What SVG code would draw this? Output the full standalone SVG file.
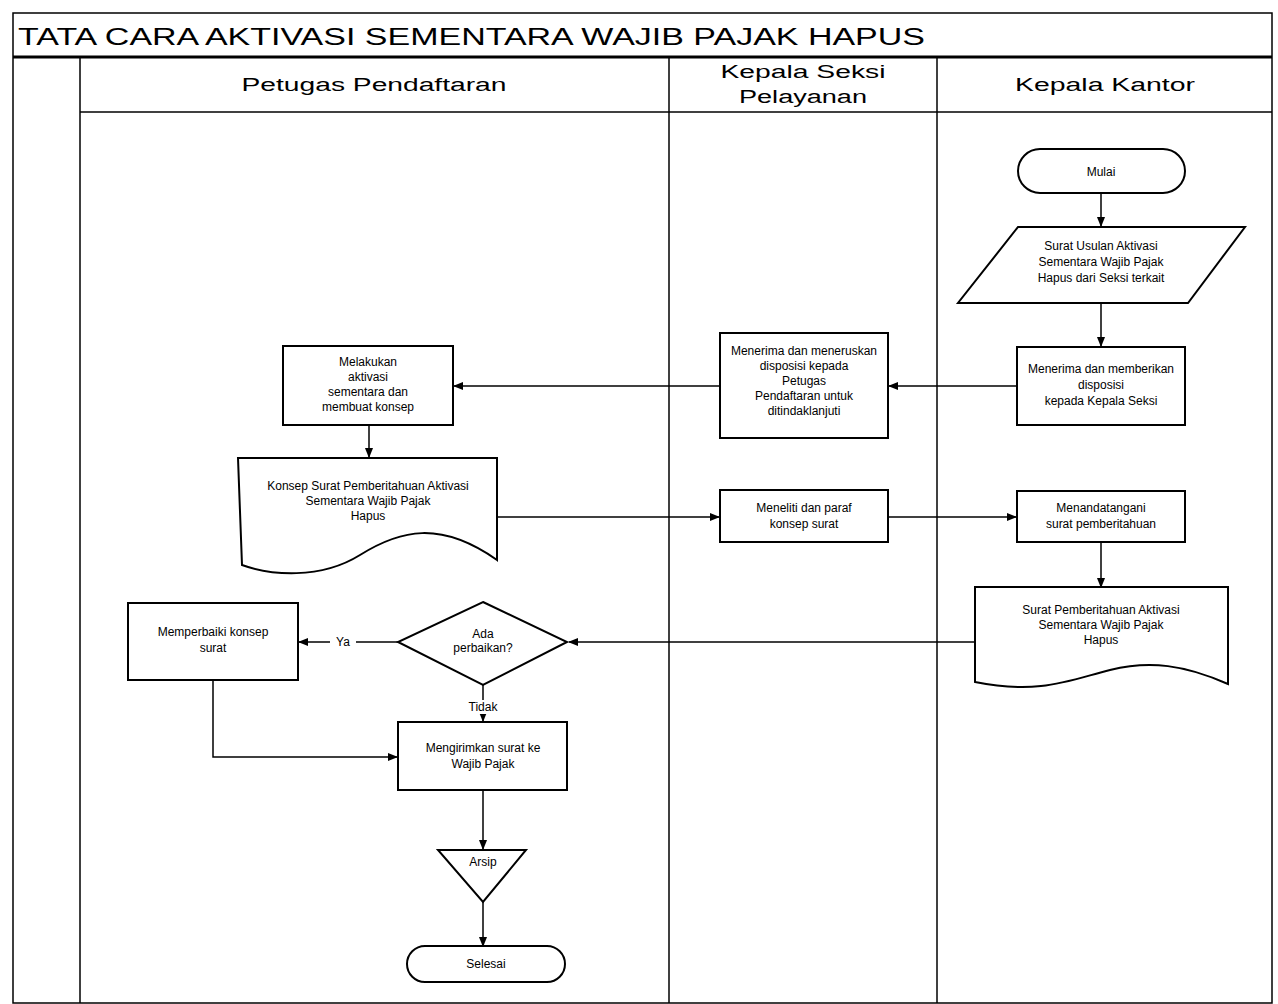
<svg xmlns="http://www.w3.org/2000/svg" width="1278" height="1004" viewBox="0 0 1278 1004">
<defs>
<marker id="ah" viewBox="0 0 10 10" refX="9" refY="5" markerWidth="7" markerHeight="7" orient="auto"><path d="M0,1 L10,5 L0,9 z" fill="#000"/></marker>
<style>
.frame{fill:none;stroke:#000;stroke-width:1.5}
.thick{stroke:#000;stroke-width:3}
.shape{fill:#fff;stroke:#000;stroke-width:2}
.conn{fill:none;stroke:#000;stroke-width:1.5;marker-end:url(#ah)}
text{font-family:"Liberation Sans",Arial,sans-serif;fill:#000}
.title{font-size:23px}
.hdr{font-size:18px;text-anchor:middle}
.lbl{font-size:12px;text-anchor:middle}
</style>
</defs>
<rect width="1278" height="1004" fill="#fff"/>
<g id="frame">
<rect class="frame" x="13" y="13" width="1259" height="990"/>
<line class="thick" x1="13" y1="57" x2="1272" y2="57"/>
<line class="frame" x1="80" y1="112" x2="1272" y2="112"/>
<line class="frame" x1="80" y1="57" x2="80" y2="1003"/>
<line class="frame" x1="669" y1="57" x2="669" y2="1003"/>
<line class="frame" x1="937" y1="57" x2="937" y2="1003"/>
<text class="title" x="18" y="45" textLength="907" lengthAdjust="spacingAndGlyphs">TATA CARA AKTIVASI SEMENTARA WAJIB PAJAK HAPUS</text>
<text class="hdr" x="374" y="91" textLength="265" lengthAdjust="spacingAndGlyphs">Petugas Pendaftaran</text>
<text class="hdr" x="803" y="78" textLength="165" lengthAdjust="spacingAndGlyphs">Kepala Seksi</text>
<text class="hdr" x="803" y="103" textLength="128" lengthAdjust="spacingAndGlyphs">Pelayanan</text>
<text class="hdr" x="1105" y="91" textLength="180" lengthAdjust="spacingAndGlyphs">Kepala Kantor</text>
</g>
<g id="connectors">
<line class="conn" x1="1101" y1="193" x2="1101" y2="226"/>
<line class="conn" x1="1101" y1="303" x2="1101" y2="346"/>
<line class="conn" x1="1017" y1="386" x2="889" y2="386"/>
<line class="conn" x1="720" y1="386" x2="454" y2="386"/>
<line class="conn" x1="369" y1="425" x2="369" y2="457"/>
<line class="conn" x1="497" y1="517" x2="719" y2="517"/>
<line class="conn" x1="888" y1="517" x2="1016" y2="517"/>
<line class="conn" x1="1101" y1="542" x2="1101" y2="587"/>
<line class="conn" x1="975" y1="642" x2="569" y2="642"/>
<line class="conn" x1="398" y1="642" x2="299" y2="642"/>
<line class="conn" x1="483" y1="685" x2="483" y2="721"/>
<polyline class="conn" points="213,680 213,757 397,757"/>
<line class="conn" x1="483" y1="790" x2="483" y2="849"/>
<line class="conn" x1="483" y1="902" x2="483" y2="946"/>
<rect x="330" y="635" width="26" height="14" fill="#fff"/>
<text class="lbl" x="343" y="646">Ya</text>
<rect x="466" y="700" width="34" height="14" fill="#fff"/>
<text class="lbl" x="483" y="711">Tidak</text>
</g>
<g id="start">
<rect class="shape" x="1018" y="149" width="167" height="44" rx="22"/>
<text class="lbl" x="1101" y="176">Mulai</text>
</g>
<g id="input">
<polygon class="shape" points="1018,227 1245,227 1188,303 958,303"/>
<text class="lbl" x="1101" y="250">Surat Usulan Aktivasi</text>
<text class="lbl" x="1101" y="266">Sementara Wajib Pajak</text>
<text class="lbl" x="1101" y="282">Hapus dari Seksi terkait</text>
</g>
<g id="kk1">
<rect class="shape" x="1017" y="347" width="168" height="78"/>
<text class="lbl" x="1101" y="373">Menerima dan memberikan</text>
<text class="lbl" x="1101" y="389">disposisi</text>
<text class="lbl" x="1101" y="405">kepada Kepala Seksi</text>
</g>
<g id="kasi1">
<rect class="shape" x="720" y="333" width="168" height="105"/>
<text class="lbl" x="804" y="355">Menerima dan meneruskan</text>
<text class="lbl" x="804" y="370">disposisi kepada</text>
<text class="lbl" x="804" y="385">Petugas</text>
<text class="lbl" x="804" y="400">Pendaftaran untuk</text>
<text class="lbl" x="804" y="415">ditindaklanjuti</text>
</g>
<g id="ptg1">
<rect class="shape" x="283" y="346" width="170" height="79"/>
<text class="lbl" x="368" y="366">Melakukan</text>
<text class="lbl" x="368" y="381">aktivasi</text>
<text class="lbl" x="368" y="396">sementara dan</text>
<text class="lbl" x="368" y="411">membuat konsep</text>
</g>
<g id="doc1">
<path class="shape" d="M238,458 H497 V560 C440,520 400,530 360,555 C320,580 270,575 242,565 Z"/>
<text class="lbl" x="368" y="490">Konsep Surat Pemberitahuan Aktivasi</text>
<text class="lbl" x="368" y="505">Sementara Wajib Pajak</text>
<text class="lbl" x="368" y="520">Hapus</text>
</g>
<g id="kasi2">
<rect class="shape" x="720" y="490" width="168" height="52"/>
<text class="lbl" x="804" y="512">Meneliti dan paraf</text>
<text class="lbl" x="804" y="528">konsep surat</text>
</g>
<g id="kk2">
<rect class="shape" x="1017" y="491" width="168" height="51"/>
<text class="lbl" x="1101" y="512">Menandatangani</text>
<text class="lbl" x="1101" y="528">surat pemberitahuan</text>
</g>
<g id="doc2">
<path class="shape" d="M975,587 H1228 V684 C1185,665 1150,660 1110,670 C1070,680 1040,695 975,682 Z"/>
<text class="lbl" x="1101" y="614">Surat Pemberitahuan Aktivasi</text>
<text class="lbl" x="1101" y="629">Sementara Wajib Pajak</text>
<text class="lbl" x="1101" y="644">Hapus</text>
</g>
<g id="decision">
<polygon class="shape" points="483,602 567,642 483,685 398,642"/>
<text class="lbl" x="483" y="638">Ada</text>
<text class="lbl" x="483" y="652">perbaikan?</text>
</g>
<g id="fix">
<rect class="shape" x="128" y="603" width="170" height="77"/>
<text class="lbl" x="213" y="636">Memperbaiki konsep</text>
<text class="lbl" x="213" y="652">surat</text>
</g>
<g id="send">
<rect class="shape" x="398" y="722" width="169" height="68"/>
<text class="lbl" x="483" y="752">Mengirimkan surat ke</text>
<text class="lbl" x="483" y="768">Wajib Pajak</text>
</g>
<g id="archive">
<polygon class="shape" points="438,850 526,850 483,902"/>
<text class="lbl" x="483" y="866">Arsip</text>
</g>
<g id="end">
<rect class="shape" x="407" y="946" width="158" height="36" rx="18"/>
<text class="lbl" x="486" y="968">Selesai</text>
</g>
</svg>
